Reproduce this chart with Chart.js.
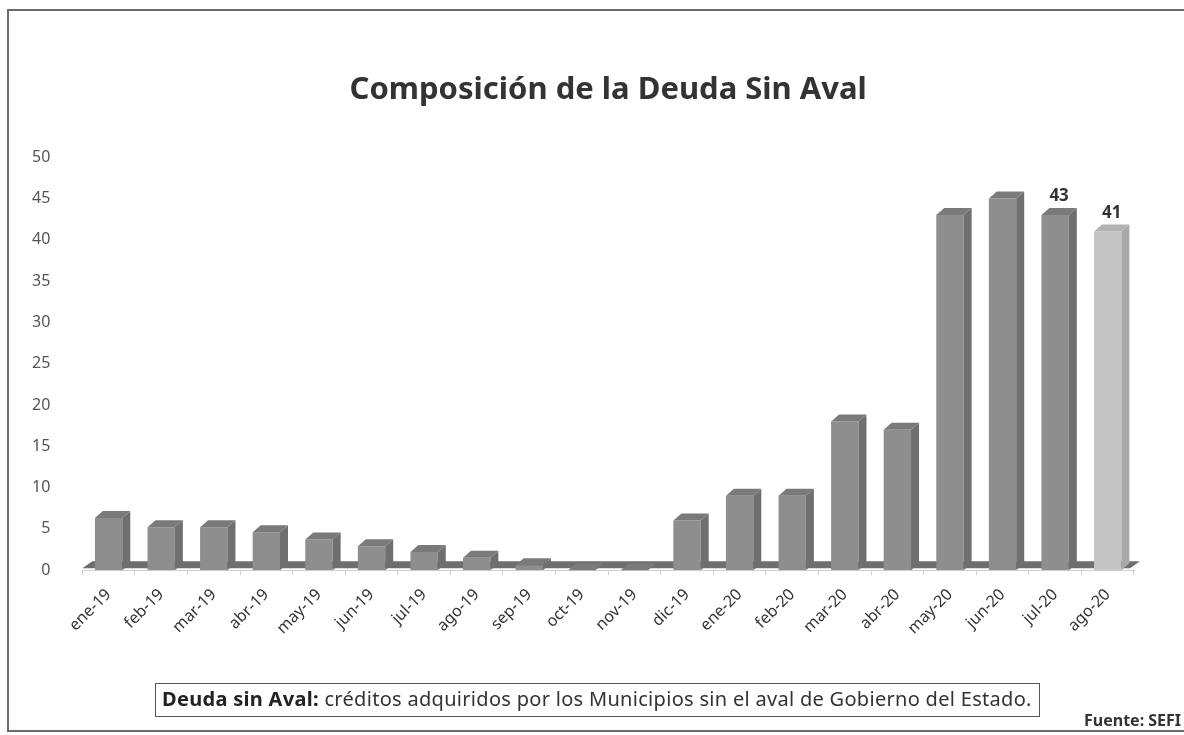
<!DOCTYPE html>
<html>
<head>
<meta charset="utf-8">
<script src="https://cdn.jsdelivr.net/npm/chart.js@4.4.0/dist/chart.umd.min.js"></script>
<style>
    body { margin: 0; background: #fff; font-family: 'Noto Sans', sans-serif; }
    #wrap { position: absolute; left: 0; top: 0; width: 1184px; height: 735px; }
    #frame { position: absolute; left: 7px; top: 9px; width: 1200px; height: 723px; border: 2px solid #6a6a6a; box-sizing: border-box; }
    #note { position: absolute; left: 155px; top: 683px; width: 885px; height: 34px; border: 1.5px solid #555; box-sizing: border-box;
            font-size: 20px; letter-spacing: 0.3px; color: #333; line-height: 30px; padding-left: 6px; white-space: nowrap; }
    #note b { color: #222; }
    #src { position: absolute; left: 1084px; top: 709px; font-size: 16px; font-weight: bold; color: #333; }
</style>
</head>
<body>
<div id="wrap">
    <div id="frame"></div>
    <canvas id="deudaChart" width="1184" height="735"></canvas>
    <div id="note"><b>Deuda sin Aval:</b> créditos adquiridos por los Municipios sin el aval de Gobierno del Estado.</div>
    <div id="src">Fuente: SEFI</div>
</div>
<script>
const meses = ['ene-19', 'feb-19', 'mar-19', 'abr-19', 'may-19', 'jun-19', 'jul-19', 'ago-19', 'sep-19', 'oct-19',
    'nov-19', 'dic-19', 'ene-20', 'feb-20', 'mar-20', 'abr-20', 'may-20', 'jun-20', 'jul-20', 'ago-20'];
const deuda = [6.3, 5.2, 5.2, 4.6, 3.7, 2.9, 2.2, 1.5, 0.6, 0, 0, 6, 9, 9, 18, 17, 43, 45, 43, 41];
const etiquetas = [null, null, null, null, null, null, null, null, null, null,
    null, null, null, null, null, null, null, null, '43', '41'];
const yTicks = [0, 5, 10, 15, 20, 25, 30, 35, 40, 45, 50];

const frontColors = deuda.map((v, i) => i === deuda.length - 1 ? '#c4c4c4' : '#8e8e8e');
const sideColors = deuda.map((v, i) => i === deuda.length - 1 ? '#a9a9a9' : '#6f6f6f');
const topColors = deuda.map((v, i) => i === deuda.length - 1 ? '#b3b3b3' : '#7a7a7a');

const DX = 8, DY = 7;

// Fake 3D: floor band, bar sides and tops, drawn from the bar elements
const bars3d = {
    id: 'bars3d',
    beforeDatasetsDraw(chart) {
        const ctx = chart.ctx;
        const area = chart.chartArea;
        const y0 = chart.scales.y.getPixelForValue(0) - 2;
        ctx.save();
        ctx.fillStyle = '#6e6e6e';
        ctx.beginPath();
        ctx.moveTo(area.left, y0);
        ctx.lineTo(area.right - 4, y0);
        ctx.lineTo(area.right - 4 + DX + 2, y0 - DY);
        ctx.lineTo(area.left + DX + 2, y0 - DY);
        ctx.closePath();
        ctx.fill();
        ctx.restore();
    },
    afterDatasetsDraw(chart) {
        const ctx = chart.ctx;
        const meta = chart.getDatasetMeta(0);
        ctx.save();
        meta.data.forEach((bar, i) => {
            const half = bar.width / 2;
            const l = bar.x - half, r = bar.x + half;
            const t = bar.y, b = bar.base;
            ctx.fillStyle = sideColors[i];
            ctx.beginPath();
            ctx.moveTo(r, b);
            ctx.lineTo(r, t);
            ctx.lineTo(r + DX, t - DY);
            ctx.lineTo(r + DX, b - DY);
            ctx.closePath();
            ctx.fill();
            ctx.fillStyle = topColors[i];
            ctx.beginPath();
            ctx.moveTo(l, t);
            ctx.lineTo(r, t);
            ctx.lineTo(r + DX, t - DY);
            ctx.lineTo(l + DX, t - DY);
            ctx.closePath();
            ctx.fill();
            if (etiquetas[i]) {
                ctx.fillStyle = '#333';
                ctx.font = 'bold 17px "Noto Sans"';
                ctx.textAlign = 'center';
                ctx.textBaseline = 'bottom';
                ctx.fillText(etiquetas[i], bar.x + DX / 2, t - DY - 3);
            }
        });
        ctx.restore();
    }
};

const ctx = document.getElementById('deudaChart').getContext('2d');
new Chart(ctx, {
    type: 'bar',
    data: {
        labels: meses,
        datasets: [{
            label: 'Deuda Sin Aval',
            data: deuda,
            backgroundColor: frontColors,
            borderWidth: 0,
            barPercentage: 0.52,
            categoryPercentage: 1
        }]
    },
    options: {
        responsive: false,
        animation: false,
        layout: { padding: { left: 8, right: 50, top: 25, bottom: 87 } },
        plugins: {
            legend: { display: false },
            tooltip: { enabled: false },
            title: {
                display: true,
                fullSize: false,
                text: 'Composición de la Deuda Sin Aval',
                color: '#333',
                font: { family: 'Noto Sans', size: 31, weight: 'bold' },
                padding: { top: 47, bottom: 48 }
            }
        },
        scales: {
            x: {
                grid: { display: true, drawOnChartArea: false, drawTicks: true, tickLength: 5, color: '#d0d0d0' },
                border: { color: '#d0d0d0' },
                ticks: {
                    color: '#333',
                    font: { family: 'Noto Sans', size: 16 },
                    padding: 10,
                    maxRotation: 45,
                    minRotation: 45,
                    autoSkip: false
                }
            },
            y: {
                min: 0,
                max: 50,
                afterBuildTicks: axis => { axis.ticks = yTicks.map(v => ({ value: v })); },
                grid: { display: false },
                border: { display: false },
                ticks: {
                    color: '#555',
                    font: { family: 'Noto Sans', size: 16 },
                    padding: 24
                }
            }
        }
    },
    plugins: [bars3d]
});
</script>
</body>
</html>
